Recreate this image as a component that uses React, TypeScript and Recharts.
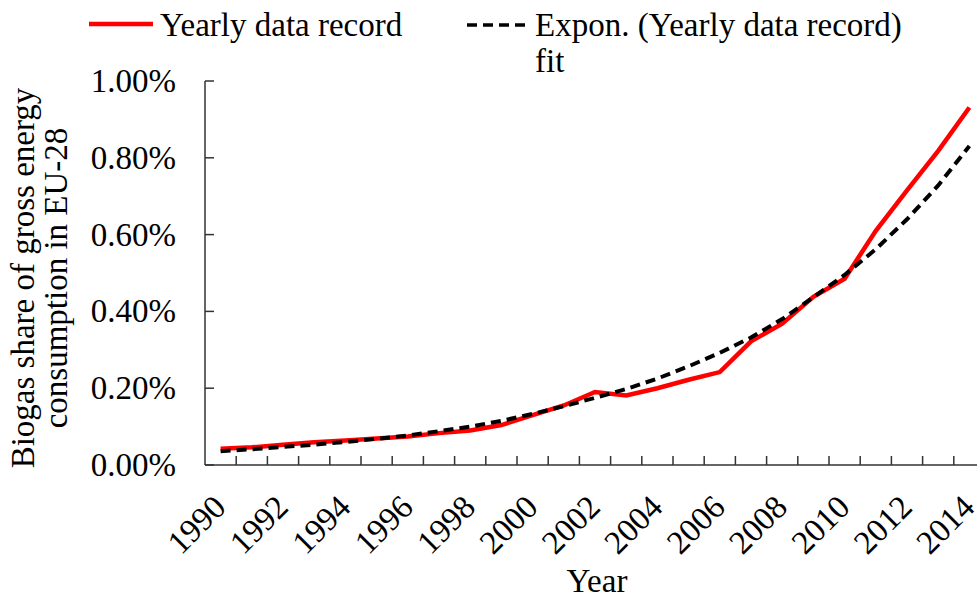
import { Label, Legend, Line, LineChart, XAxis, YAxis } from 'recharts';

const years = [
  1990, 1991, 1992, 1993, 1994, 1995, 1996, 1997, 1998, 1999, 2000, 2001, 2002,
  2003, 2004, 2005, 2006, 2007, 2008, 2009, 2010, 2011, 2012, 2013, 2014,
];

// biogas share, in percent
const yearlyRecord = [
  0.042, 0.046, 0.053, 0.059, 0.064, 0.069, 0.074, 0.083, 0.09, 0.104, 0.13,
  0.155, 0.19, 0.181, 0.2, 0.222, 0.242, 0.322, 0.368, 0.438, 0.485, 0.61,
  0.715, 0.818, 0.931,
];

const exponFit = [
  0.036, 0.041, 0.047, 0.053, 0.06, 0.068, 0.077, 0.088, 0.1, 0.115, 0.133,
  0.153, 0.175, 0.198, 0.225, 0.257, 0.292, 0.332, 0.38, 0.437, 0.495, 0.562,
  0.64, 0.728, 0.831,
];

const yTicks = [0, 0.2, 0.4, 0.6, 0.8, 1.0];
const yearLabels = [1990, 1992, 1994, 1996, 1998, 2000, 2002, 2004, 2006, 2008, 2010, 2012, 2014];
// tick marks sit between the years
const yearMarks = [
  1990.5, 1991.5, 1992.5, 1993.5, 1994.5, 1995.5, 1996.5, 1997.5, 1998.5, 1999.5,
  2000.5, 2001.5, 2002.5, 2003.5, 2004.5, 2005.5, 2006.5, 2007.5, 2008.5, 2009.5,
  2010.5, 2011.5, 2012.5, 2013.5, 2014.5,
];

const data = years.map((year, i) => ({
  year,
  record: yearlyRecord[i],
  fit: exponFit[i],
}));

const FONT = '"Liberation Serif", "Times New Roman", serif';
const AXIS = '#333333';
const Y_GAP = 29;

// label axis: text only, rotated like Excel
const YearTick = ({ x, y, payload }: any) => (
  <g transform={`translate(${x + 7},${y + 35}) rotate(-45)`}>
    <text x={0} y={0} textAnchor="end" fontFamily={FONT} fontSize={33} fill="#000">
      {payload.value}
    </text>
  </g>
);

// inward tick marks between categories
const MarkTick = ({ x, y }: any) => (
  <path d={`M${x},${y}V${y - 9}`} stroke={AXIS} strokeWidth={1.5} />
);

const PercentTick = ({ x, y, payload }: any) => (
  <g>
    <path d={`M${x + Y_GAP},${y}H${x + Y_GAP + 9}`} stroke={AXIS} strokeWidth={1.5} />
    <text
      x={x}
      y={y}
      dy={11}
      textAnchor="end"
      fontFamily={FONT}
      fontSize={33}
      fill="#000"
    >
      {`${payload.value.toFixed(2)}%`}
    </text>
  </g>
);

const YTitle = ({ viewBox }: any) => {
  const cy = viewBox.y + viewBox.height / 2 + 5;
  return (
    <g fontFamily={FONT} fontSize={33} fill="#000">
      <text x={34} y={cy} textAnchor="middle" transform={`rotate(-90, 34, ${cy})`}>
        Biogas share of gross energy
      </text>
      <text x={67} y={cy} textAnchor="middle" transform={`rotate(-90, 67, ${cy})`}>
        consumption in EU-28
      </text>
    </g>
  );
};

const XTitle = ({ viewBox }: any) => (
  <text
    x={viewBox.x + viewBox.width / 2 + 2}
    y={viewBox.y + 126}
    textAnchor="middle"
    fontFamily={FONT}
    fontSize={33}
    fill="#000"
  >
    Year
  </text>
);

const ChartLegend = () => (
  <div
    style={{
      position: 'relative',
      width: 977,
      height: 70,
      fontFamily: FONT,
      fontSize: 33,
      lineHeight: '36px',
      color: '#000',
    }}
  >
    <svg width={66} height={10} style={{ position: 'absolute', left: 89, top: 19 }}>
      <line x1={0} y1={5} x2={64} y2={5} stroke="#ff0000" strokeWidth={4.5} />
    </svg>
    <div style={{ position: 'absolute', left: 160, top: 7, whiteSpace: 'nowrap' }}>
      Yearly data record
    </div>
    <svg width={66} height={10} style={{ position: 'absolute', left: 467, top: 20 }}>
      <line x1={0} y1={5} x2={61} y2={5} stroke="#000" strokeWidth={3.5} strokeDasharray="10 6" />
    </svg>
    <div style={{ position: 'absolute', left: 535, top: 7, width: 400 }}>
      Expon. (Yearly data record) fit
    </div>
  </div>
);

export default function App() {
  return (
    <div
      style={{
        position: 'absolute',
        left: 0,
        top: 0,
        width: 977,
        height: 598,
        overflow: 'hidden',
        background: '#fff',
      }}
    >
      <LineChart
        width={990}
        height={598}
        data={data}
        margin={{ top: 11, right: 5, bottom: 0, left: 85 }}
      >
        <Legend
          verticalAlign="top"
          content={<ChartLegend />}
          wrapperStyle={{ top: 0, left: 0 }}
        />
        {/* default axis: line + marks, sits right under the plot */}
        <XAxis
          dataKey="year"
          type="number"
          domain={[1989.5, 2014.5]}
          allowDataOverflow
          ticks={yearMarks}
          interval={0}
          height={1}
          tickSize={0}
          tickMargin={0}
          tick={<MarkTick />}
          tickLine={false}
          axisLine={{ stroke: AXIS, strokeWidth: 1.5 }}
        />
        <XAxis
          xAxisId="labels"
          dataKey="year"
          type="number"
          domain={[1989.5, 2014.5]}
          allowDataOverflow
          ticks={yearLabels}
          interval={0}
          height={132}
          axisLine={false}
          tickLine={false}
          tick={<YearTick />}
        >
          <Label content={<XTitle />} />
        </XAxis>
        <YAxis
          domain={[0, 1]}
          ticks={yTicks}
          interval={0}
          width={120}
          tickSize={0}
          tickMargin={Y_GAP}
          tickLine={false}
          tick={<PercentTick />}
          axisLine={{ stroke: AXIS, strokeWidth: 1.5 }}
        >
          <Label content={<YTitle />} />
        </YAxis>
        <Line
          type="linear"
          dataKey="record"
          stroke="#ff0000"
          strokeWidth={4.5}
          dot={false}
          isAnimationActive={false}
        />
        <Line
          type="linear"
          dataKey="fit"
          stroke="#000"
          strokeWidth={4}
          strokeDasharray="10 6"
          dot={false}
          isAnimationActive={false}
        />
      </LineChart>
    </div>
  );
}
